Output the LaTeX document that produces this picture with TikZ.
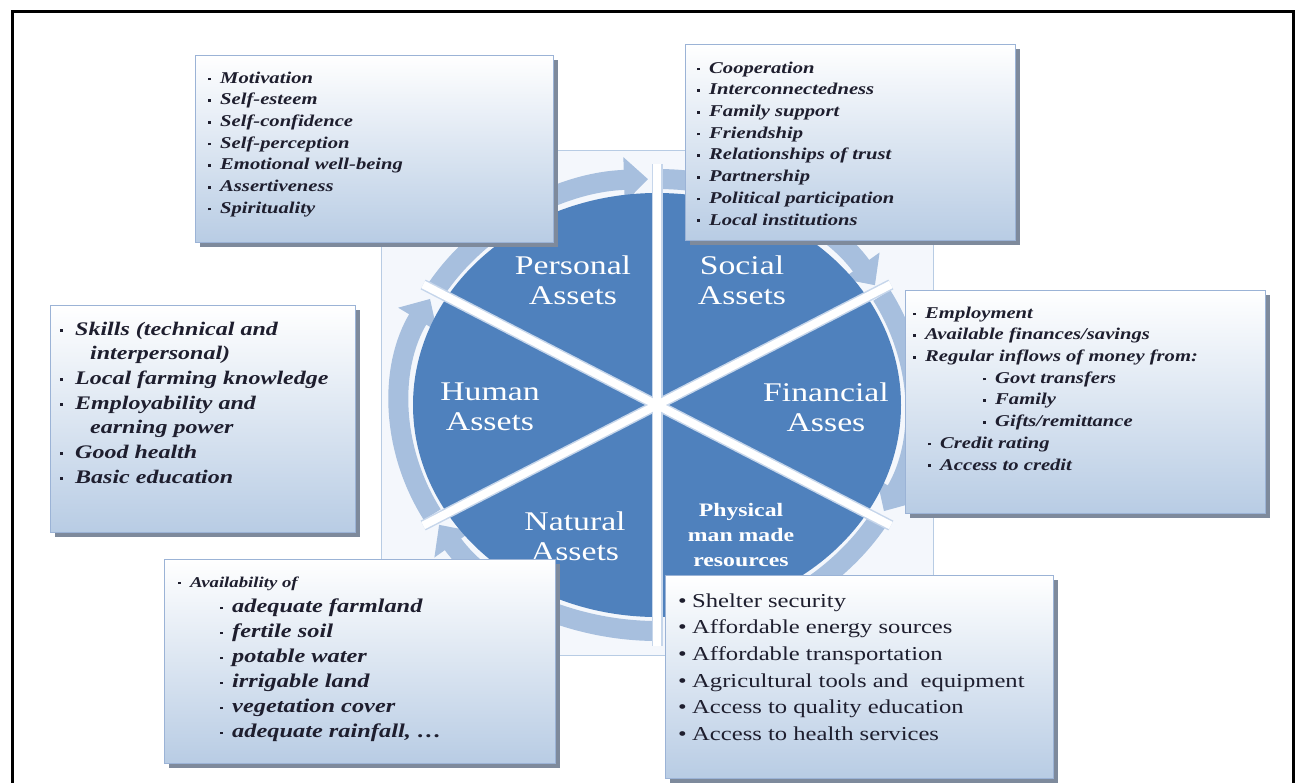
\documentclass[tikz,border=0pt]{standalone}
\usepackage{fontspec}
\setmainfont[FakeStretch=1.25]{Liberation Serif}
\usetikzlibrary{calc}
\usetikzlibrary{arrows.meta}
\usetikzlibrary{shadows}

\definecolor{assetblue}{HTML}{4F81BD}
\definecolor{ringblue}{HTML}{A7BFDE}
\definecolor{spokeedge}{HTML}{C6D6EB}
\definecolor{boxblue}{HTML}{B8CCE4}
\definecolor{boxedge}{HTML}{9BB3D6}
\definecolor{boxshadow}{HTML}{7E8A9C}
\definecolor{listink}{HTML}{1E1E2E}
\definecolor{panelblue}{HTML}{F4F7FC}

\newcommand{\bsq}{\makebox[12pt][l]{\rule[3pt]{2.6pt}{2.6pt}}}
\newcommand{\bdot}{\makebox[14pt][l]{\textbullet}}

\tikzset{
  infobox/.style={draw=boxedge, line width=1pt, top color=white, bottom color=boxblue,
    anchor=north west, drop shadow={shadow xshift=4pt, shadow yshift=-4pt, fill=boxshadow, opacity=1}},
  listtext/.style={anchor=north west, inner sep=0pt, align=left, text=listink},
  sectorlabel/.style={align=center, text=white, inner sep=0pt, font=\fontsize{27}{30}\selectfont},
  ringarrow/.style={draw=ringblue, line width=20pt, -{Triangle[width=44pt,length=24pt]}},
}

\begin{document}
\begin{tikzpicture}[x=1pt,y=-1pt]
\useasboundingbox (0,0) rectangle (1296,782);
\clip (0,0) rectangle (1296,782);
% panel behind the wheel
\draw[draw=boxblue, fill=panelblue, line width=1pt] (381,150) rectangle (933,655);
\coordinate (c) at (657,405);
% ring of arrows, clockwise
\foreach \a [evaluate=\a as \b using \a+1, evaluate=\a as \e using \a+58] in {-30,30,...,270}
  \draw[ringarrow] ($(c)+(\b:257 and 226)$) arc[start angle=\b, end angle=\e, x radius=257, y radius=226];
\fill[assetblue] (c) ellipse[x radius=244, y radius=212];
% spokes
\foreach \a in {-30,30,...,270}
  \draw[spokeedge, line width=11pt] (c) -- ($(c)+(\a:270 and 241)$);
\foreach \a in {-30,30,...,270}
  \draw[white, line width=8pt] (c) -- ($(c)+(\a:270 and 241)$);

\node[sectorlabel] (personal) at (573,280) {Personal\\Assets};
\node[sectorlabel] (social) at (742,280) {Social\\Assets};
\node[sectorlabel] (human) at (490,407) {Human\\Assets};
\node[sectorlabel] (financial) at (826,407) {Financial\\Asses};
\node[sectorlabel] (natural) at (575,536) {Natural\\Assets};
\node[sectorlabel, font=\fontsize{19}{25}\selectfont\bfseries] (physical) at (741,535) {Physical\\man made\\resources};

% boxes
\node[infobox, minimum width=358pt, minimum height=187pt] (personalbox) at (195,55) {};
\node[listtext, font=\fontsize{16.5}{21.7}\selectfont\bfseries\itshape] (personallist) at (208,67.8)
  {\strut\bsq Motivation\\ \bsq Self-esteem\\ \bsq Self-confidence\\ \bsq Self-perception\\
   \bsq Emotional well-being\\ \bsq Assertiveness\\ \bsq Spirituality};

\node[infobox, minimum width=330pt, minimum height=196pt] (socialbox) at (685,44) {};
\node[listtext, font=\fontsize{16.5}{21.7}\selectfont\bfseries\itshape] (sociallist) at (697,57.8)
  {\strut\bsq Cooperation\\ \bsq Interconnectedness\\ \bsq Family support\\ \bsq Friendship\\
   \bsq Relationships of trust\\ \bsq Partnership\\ \bsq Political participation\\ \bsq Local institutions};

\node[infobox, minimum width=305pt, minimum height=227pt] (humanbox) at (50,305) {};
\node[listtext, font=\fontsize{19.2}{24.7}\selectfont\bfseries\itshape] (humanlist) at (60,317.7)
  {\strut\makebox[15pt][l]{\rule[3.5pt]{2.8pt}{2.8pt}}Skills (technical and\\ \hspace*{30pt}interpersonal)\\
   \makebox[15pt][l]{\rule[3.5pt]{2.8pt}{2.8pt}}Local farming knowledge\\
   \makebox[15pt][l]{\rule[3.5pt]{2.8pt}{2.8pt}}Employability and\\ \hspace*{30pt}earning power\\
   \makebox[15pt][l]{\rule[3.5pt]{2.8pt}{2.8pt}}Good health\\
   \makebox[15pt][l]{\rule[3.5pt]{2.8pt}{2.8pt}}Basic education};

\node[infobox, minimum width=360pt, minimum height=223pt] (financialbox) at (905,290) {};
\node[listtext, font=\fontsize{16.5}{21.7}\selectfont\bfseries\itshape] (financiallist) at (913,302.8)
  {\strut\bsq Employment\\ \bsq Available finances/savings\\ \bsq Regular inflows of money from:\\
   \hspace*{70pt}\bsq Govt transfers\\ \hspace*{70pt}\bsq Family\\ \hspace*{70pt}\bsq Gifts/remittance\\
   \hspace*{15pt}\bsq Credit rating\\ \hspace*{15pt}\bsq Access to credit};

\node[infobox, minimum width=391pt, minimum height=204pt] (naturalbox) at (164,559) {};
\node[listtext, font=\fontsize{19.5}{25}\selectfont\bfseries\itshape] (naturallist) at (178,569.5)
  {\strut{\fontsize{15}{25}\selectfont\bsq Availability of}\\
   \hspace*{42pt}\bsq adequate farmland\\ \hspace*{42pt}\bsq fertile soil\\
   \hspace*{42pt}\bsq potable water\\ \hspace*{42pt}\bsq irrigable land\\
   \hspace*{42pt}\bsq vegetation cover\\ \hspace*{42pt}\bsq adequate rainfall, \ldots};

\node[infobox, minimum width=388pt, minimum height=203pt] (physicalbox) at (665,575) {};
\node[listtext, font=\fontsize{19.7}{26.6}\selectfont] (physicallist) at (678,588.4)
  {\strut\bdot Shelter security\\ \bdot Affordable energy sources\\ \bdot Affordable transportation\\
   \bdot Agricultural tools and\ \ equipment\\ \bdot Access to quality education\\ \bdot Access to health services};

% frame
\draw[line width=3pt] (12,800) -- (12,11) -- (1293,11) -- (1293,800);
\end{tikzpicture}
\end{document}
